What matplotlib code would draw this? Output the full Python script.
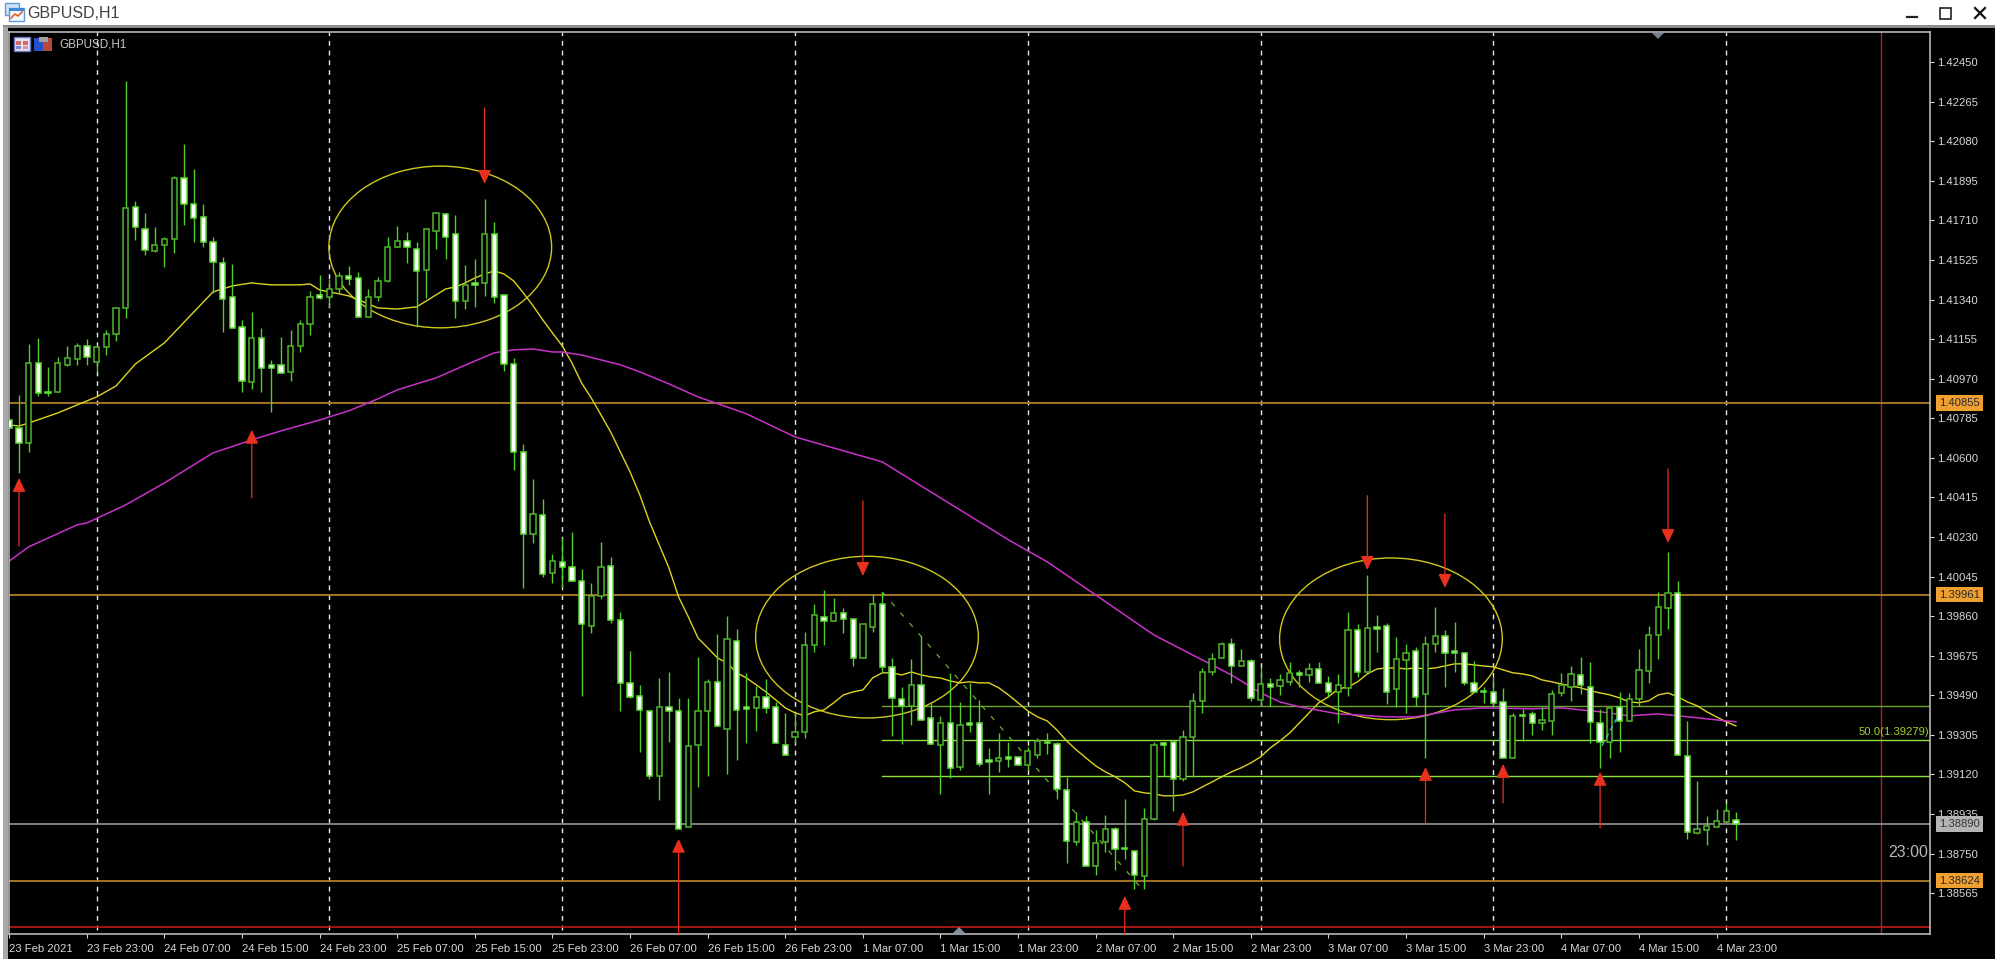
import matplotlib
matplotlib.use("Agg")
import matplotlib.pyplot as plt
from matplotlib.patches import Ellipse, Rectangle, Polygon
from matplotlib.transforms import blended_transform_factory

plt.rcParams['font.family'] = ['Liberation Sans', 'DejaVu Sans']

symbol = "GBPUSD,H1"
highs = [1.40787,1.40894,1.41133,1.41161,1.41025,1.41072,1.41124,1.41138,1.41156,1.41119,
1.41198,1.41301,1.42362,1.41801,1.41745,1.41680,1.41633,1.41918,1.42068,1.41951,
1.41787,1.41633,1.41540,1.41507,1.41245,1.41282,1.41208,1.41058,1.41165,1.41198,
1.41245,1.41381,1.41455,1.41437,1.41469,1.41497,1.41469,1.41390,1.41446,1.41633,
1.41684,1.41656,1.41610,1.41675,1.41750,1.41745,1.41736,1.41502,1.41530,1.41811,
1.41703,1.41362,1.41067,1.40665,1.40502,1.40408,1.40151,1.40226,1.40254,1.40081,
1.40016,1.40207,1.40137,1.39880,1.39698,1.39539,1.39417,1.39571,1.39599,1.39478,
1.39478,1.39670,1.39567,1.39777,1.39861,1.39800,1.39595,1.39534,1.39567,1.39459,
1.39408,1.39408,1.39786,1.39917,1.39983,1.39945,1.39898,1.39847,1.39824,1.39964,
1.39973,1.39665,1.39529,1.39660,1.39768,1.39455,1.39394,1.39595,1.39459,1.39548,
1.39469,1.39244,1.39314,1.39272,1.39202,1.39249,1.39291,1.39314,1.39272,1.39109,
1.38945,1.38926,1.38861,1.38931,1.38875,1.39006,1.38763,1.38964,1.39272,1.39272,
1.39272,1.39328,1.39501,1.39618,1.39688,1.39740,1.39758,1.39707,1.39660,1.39623,
1.39571,1.39590,1.39646,1.39609,1.39641,1.39646,1.39581,1.39590,1.39880,1.39824,
1.40053,1.39866,1.39829,1.39763,1.39730,1.39716,1.39768,1.39903,1.39796,1.39833,
1.39693,1.39651,1.39529,1.39576,1.39525,1.39408,1.39427,1.39417,1.39436,1.39515,
1.39595,1.39627,1.39670,1.39646,1.39427,1.39436,1.39506,1.39501,1.39707,1.39815,
1.39973,1.40160,1.40025,1.39370,1.39090,1.38926,1.38959,1.38987,1.38945]
lows = [1.40731,1.40530,1.40628,1.40890,1.40890,1.40908,1.41030,1.41035,1.41035,1.41002,
1.41081,1.41147,1.41254,1.41619,1.41549,1.41563,1.41493,1.41558,1.41689,1.41610,
1.41586,1.41371,1.41189,1.41208,1.40908,1.40922,1.40908,1.40815,1.40997,1.40960,
1.41095,1.41175,1.41343,1.41306,1.41371,1.41409,1.41259,1.41259,1.41334,1.41423,
1.41586,1.41512,1.41212,1.41348,1.41577,1.41530,1.41254,1.41296,1.41306,1.41357,
1.41325,1.41007,1.40544,1.39992,1.40202,1.40044,1.40016,1.39997,1.40025,1.39487,
1.39782,1.39941,1.39829,1.39417,1.39478,1.39225,1.39099,1.39001,1.39272,1.38866,
1.38875,1.39062,1.39113,1.39347,1.39123,1.39188,1.39267,1.39324,1.39408,1.39267,
1.39211,1.39267,1.39291,1.39693,1.39726,1.39838,1.39782,1.39627,1.39665,1.39786,
1.39595,1.39300,1.39263,1.39352,1.39375,1.39263,1.39029,1.39104,1.39141,1.39319,
1.39160,1.39029,1.39132,1.39155,1.39165,1.39141,1.39197,1.39216,1.39006,1.38706,
1.38791,1.38692,1.38650,1.38758,1.38674,1.38725,1.38585,1.38585,1.38907,1.39109,
1.38950,1.39090,1.39109,1.39408,1.39585,1.39665,1.39548,1.39627,1.39464,1.39441,
1.39441,1.39492,1.39539,1.39529,1.39553,1.39548,1.39483,1.39361,1.39487,1.39576,
1.39599,1.39693,1.39450,1.39436,1.39408,1.39441,1.39197,1.39693,1.39529,1.39599,
1.39539,1.39506,1.39455,1.39436,1.39197,1.39197,1.39277,1.39305,1.39328,1.39305,
1.39487,1.39464,1.39497,1.39267,1.39151,1.39197,1.39225,1.39370,1.39441,1.39548,
1.39660,1.39800,1.39211,1.38819,1.38842,1.38791,1.38875,1.38898,1.38814]
body_top = [1.40777,1.40740,1.41044,1.41044,1.40908,1.41044,1.41067,1.41124,1.41124,1.41119,
1.41180,1.41301,1.41769,1.41773,1.41670,1.41596,1.41624,1.41909,1.41909,1.41787,
1.41727,1.41610,1.41512,1.41353,1.41212,1.41161,1.41161,1.41035,1.41035,1.41124,
1.41226,1.41353,1.41362,1.41390,1.41451,1.41451,1.41441,1.41353,1.41427,1.41586,
1.41614,1.41614,1.41577,1.41670,1.41745,1.41741,1.41647,1.41409,1.41418,1.41647,
1.41647,1.41362,1.41039,1.40628,1.40338,1.40333,1.40118,1.40114,1.40090,1.40025,
1.39955,1.40090,1.40095,1.39843,1.39548,1.39487,1.39417,1.39436,1.39436,1.39417,
1.39254,1.39417,1.39553,1.39553,1.39754,1.39744,1.39436,1.39483,1.39483,1.39436,
1.39258,1.39319,1.39726,1.39866,1.39857,1.39875,1.39875,1.39847,1.39824,1.39917,
1.39917,1.39623,1.39473,1.39539,1.39539,1.39385,1.39361,1.39361,1.39352,1.39361,
1.39361,1.39188,1.39197,1.39202,1.39202,1.39230,1.39277,1.39272,1.39263,1.39048,
1.38898,1.38898,1.38800,1.38866,1.38866,1.38777,1.38763,1.38912,1.39258,1.39267,
1.39272,1.39296,1.39464,1.39599,1.39660,1.39730,1.39730,1.39651,1.39651,1.39543,
1.39543,1.39562,1.39595,1.39595,1.39613,1.39613,1.39548,1.39539,1.39796,1.39796,
1.39805,1.39810,1.39815,1.39660,1.39688,1.39698,1.39730,1.39768,1.39768,1.39698,
1.39688,1.39548,1.39511,1.39506,1.39459,1.39394,1.39398,1.39403,1.39375,1.39497,
1.39539,1.39590,1.39585,1.39529,1.39361,1.39431,1.39436,1.39473,1.39609,1.39772,
1.39903,1.39969,1.39969,1.39207,1.38866,1.38880,1.38903,1.38950,1.38907]
body_bot = [1.40740,1.40670,1.40670,1.40904,1.40901,1.40908,1.41035,1.41063,1.41072,1.41049,
1.41119,1.41180,1.41301,1.41680,1.41572,1.41568,1.41596,1.41624,1.41787,1.41722,
1.41610,1.41516,1.41343,1.41208,1.40960,1.40955,1.41021,1.41021,1.40997,1.41002,
1.41124,1.41226,1.41348,1.41353,1.41390,1.41437,1.41259,1.41259,1.41353,1.41427,
1.41586,1.41586,1.41474,1.41479,1.41661,1.41633,1.41334,1.41334,1.41409,1.41418,
1.41353,1.41039,1.40628,1.40245,1.40245,1.40058,1.40062,1.40090,1.40025,1.39824,
1.39815,1.39955,1.39843,1.39548,1.39483,1.39422,1.39113,1.39113,1.39417,1.38866,
1.38875,1.39258,1.39417,1.39347,1.39333,1.39422,1.39427,1.39431,1.39431,1.39267,
1.39211,1.39296,1.39319,1.39726,1.39838,1.39838,1.39847,1.39665,1.39665,1.39810,
1.39623,1.39478,1.39441,1.39441,1.39375,1.39263,1.39258,1.39151,1.39155,1.39352,
1.39169,1.39179,1.39183,1.39193,1.39165,1.39165,1.39211,1.39267,1.39052,1.38809,
1.38805,1.38692,1.38692,1.38805,1.38772,1.38772,1.38650,1.38646,1.38912,1.39258,
1.39099,1.39099,1.39296,1.39464,1.39599,1.39665,1.39627,1.39627,1.39478,1.39469,
1.39529,1.39534,1.39553,1.39585,1.39585,1.39548,1.39506,1.39506,1.39525,1.39599,
1.39599,1.39800,1.39506,1.39520,1.39655,1.39483,1.39497,1.39730,1.39688,1.39688,
1.39548,1.39506,1.39506,1.39455,1.39197,1.39197,1.39394,1.39361,1.39361,1.39370,
1.39501,1.39529,1.39539,1.39366,1.39272,1.39272,1.39370,1.39370,1.39473,1.39604,
1.39772,1.39898,1.39211,1.38851,1.38847,1.38861,1.38875,1.38898,1.38890]
# bars that closed above their open (hollow bodies); all others are bearish (white bodies)
bull_bars = [2,5,6,7,9,10,11,12,15,16,17,25,29,30,31,33,34,37,38,39,40,43,44,47,49,54,56,60,61,
67,70,71,72,74,77,81,82,83,85,88,89,93,96,98,102,105,106,110,112,113,117,118,121,122,123,124,
125,127,129,131,132,134,137,138,140,143,144,146,147,155,158,159,160,161,165,167,168,169,170,
171,174,175,176,177]

ma_fast_bars = [0,1,2,5,9,11,13,16,21,22,23,25,26,27,30,31,32,34,35,36,37,38,40,42,44,45,46,47,48,49,50,
51,52,53,54,55,56,57,58,59,60,61,62,63,64,65,66,67,68,69,70,71,72,73,74,75,76,77,78,79,80,81,82,83,84,
85,86,87,88,89,90,91,92,93,94,95,96,97,98,99,100,101,102,103,104,105,106,107,108,109,110,111,112,113,
114,115,116,117,118,119,120,121,122,123,124,125,126,127,128,129,130,131,132,133,134,135,136,137,138,
139,140,141,142,143,144,145,146,147,148,149,150,151,152,153,154,155,156,157,158,159,160,161,162,163,
164,165,166,167,168,169,170,171,172,173,174,175,176,177,178]
ma_fast = [1.40754,1.40749,1.40763,1.40810,1.40885,1.40936,1.41039,1.41138,1.41376,1.41390,1.41404,
1.41418,1.41413,1.41409,1.41409,1.41413,1.41385,1.41367,1.41357,1.41339,1.41320,1.41301,1.41296,
1.41306,1.41362,1.41390,1.41399,1.41418,1.41441,1.41460,1.41474,1.41460,1.41427,1.41371,1.41311,
1.41245,1.41184,1.41124,1.41044,1.40950,1.40880,1.40801,1.40721,1.40628,1.40534,1.40427,1.40301,
1.40193,1.40086,1.39950,1.39857,1.39758,1.39712,1.39665,1.39641,1.39595,1.39571,1.39539,1.39506,
1.39469,1.39431,1.39408,1.39394,1.39413,1.39422,1.39455,1.39492,1.39506,1.39515,1.39571,1.39595,
1.39595,1.39585,1.39599,1.39585,1.39576,1.39571,1.39557,1.39548,1.39553,1.39548,1.39548,1.39525,
1.39492,1.39455,1.39417,1.39389,1.39370,1.39328,1.39277,1.39235,1.39197,1.39160,1.39132,1.39109,
1.39081,1.39043,1.39034,1.39029,1.39020,1.39020,1.39024,1.39038,1.39062,1.39085,1.39109,1.39132,
1.39151,1.39174,1.39202,1.39244,1.39277,1.39314,1.39361,1.39408,1.39455,1.39483,1.39520,1.39529,
1.39553,1.39590,1.39613,1.39618,1.39618,1.39613,1.39618,1.39613,1.39618,1.39627,1.39637,1.39637,
1.39632,1.39627,1.39623,1.39609,1.39595,1.39590,1.39581,1.39562,1.39553,1.39543,1.39534,1.39525,
1.39511,1.39501,1.39492,1.39478,1.39459,1.39455,1.39464,1.39492,1.39501,1.39483,1.39459,1.39441,
1.39413,1.39389,1.39366,1.39347]
ma_slow_bars = [0,2,7,8,12,16,18,21,25,28,32,35,38,40,44,48,50,52,54,56,57,59,63,65,68,71,74,76,81,90,93,
103,107,112,118,123,126,129,131,133,137,139,142,145,149,152,157,160,164,167,170,172,174,176,178]
ma_slow = [1.40118,1.40184,1.40287,1.40296,1.40380,1.40483,1.40539,1.40623,1.40684,1.40726,1.40777,
1.40820,1.40876,1.40918,1.40974,1.41053,1.41091,1.41105,1.41109,1.41095,1.41095,1.41081,1.41035,
1.41002,1.40946,1.40885,1.40838,1.40806,1.40698,1.40581,1.40497,1.40217,1.40114,1.39959,1.39772,
1.39655,1.39585,1.39501,1.39459,1.39436,1.39403,1.39398,1.39389,1.39389,1.39422,1.39431,1.39427,
1.39431,1.39413,1.39394,1.39403,1.39394,1.39385,1.39375,1.39366]

arrow_bars = [1,25,49,69,88,115,121,140,148,146,154,164,171]
arrow_tips = [1.40506,1.40731,1.41881,1.38819,1.40048,1.38552,1.38945,1.40076,1.39992,1.39155,1.39169,1.39132,1.40202]
arrow_tails = [1.40188,1.40413,1.42236,1.38374,1.40399,1.38374,1.38692,1.40423,1.40338,1.38889,1.38987,1.38870,1.40548]

ellipse_bars = [44.43,88.42,142.44]
ellipse_prices = [1.41586,1.39762,1.39754]
ellipse_width_bars = 22.96
ellipse_height_price = 0.00756

grid_bars = [9,33,57,81,105,129,153,177]
x_tick_bars = list(range(0,177,8))
x_tick_labels = ["23 Feb 2021","23 Feb 23:00","24 Feb 07:00","24 Feb 15:00","24 Feb 23:00","25 Feb 07:00",
"25 Feb 15:00","25 Feb 23:00","26 Feb 07:00","26 Feb 15:00","26 Feb 23:00","1 Mar 07:00","1 Mar 15:00",
"1 Mar 23:00","2 Mar 07:00","2 Mar 15:00","2 Mar 23:00","3 Mar 07:00","3 Mar 15:00","3 Mar 23:00",
"4 Mar 07:00","4 Mar 15:00","4 Mar 23:00"]
y_ticks = [1.42450,1.42265,1.42080,1.41895,1.41710,1.41525,1.41340,1.41155,1.40970,1.40785,1.40600,
1.40415,1.40230,1.40045,1.39860,1.39675,1.39490,1.39305,1.39120,1.38935,1.38750,1.38565]

orange_levels = [1.40855,1.39961,1.38624]
bid_level = 1.38890
red_level = 1.38409
fib_start_bar = 90
fib_levels = [1.39440,1.39279,1.39113]
trend_bars = [90,116.6]
trend_prices = [1.39973,1.38594]
cyan_bars = [164.2,165.9]
cyan_prices = [1.39254,1.39398]
red_vline_bar = 193
countdown = "23:00"

W, H = 2000, 959
fig = plt.figure(figsize=(W/100, H/100), dpi=100, facecolor='white')

# window chrome, drawn in image pixels
bg = fig.add_axes([0, 0, 1, 1], zorder=0)
bg.set_xlim(0, W); bg.set_ylim(H, 0); bg.axis('off')
bg.add_patch(Rectangle((0, 27), 1995, 932, fc='black', ec='none'))
bg.add_patch(Rectangle((0, 25), 1995, 3, fc='#8c8c8c', ec='none'))
bg.add_patch(Rectangle((0, 27), 8, 932, fc='#a8a8a8', ec='none'))
bg.add_patch(Rectangle((0, 0), 3, 959, fc='white', ec='none'))
bg.add_patch(Rectangle((5, 3), 14, 12, fc='#cfe2f8', ec='#5f9ad8', lw=1))
bg.add_patch(Rectangle((9, 8), 15, 13, fc='#f4f8fc', ec='#5f9ad8', lw=1))
bg.add_patch(Rectangle((9, 8), 15, 3, fc='#3f86d6', ec='none'))
bg.plot([11, 15, 18, 22], [18, 14, 16, 12], color='#e0602a', lw=1.2)
bg.text(27, 13, symbol, color='#404040', fontsize=11.5, va='center', ha='left')
bg.plot([1907, 1917], [17, 17], color='#222222', lw=1.6)
bg.add_patch(Rectangle((1940, 8), 11, 10.5, fc='none', ec='#222222', lw=1.2))
bg.plot([1975, 1985], [8, 18], color='#111111', lw=1.6)
bg.plot([1975, 1985], [18, 8], color='#111111', lw=1.6)

ax = fig.add_axes([9/W, 1-934/H, (1930-9)/W, (934-32)/H], zorder=1, facecolor='black')
ax.set_xlim(-0.03, 198.01)
ax.set_ylim(1.38374, 1.42591)
for s in ax.spines.values():
    s.set_color('#c4c4c4'); s.set_linewidth(1.1)

ax.yaxis.tick_right()
ax.set_yticks(y_ticks)
ax.set_yticklabels([f"{v:.5f}" for v in y_ticks])
ax.set_xticks(x_tick_bars)
ax.set_xticklabels(x_tick_labels, ha='left')
ax.tick_params(axis='both', colors='#d8d8d8', labelsize=8.1, length=3, width=0.8)
ax.tick_params(axis='x', pad=4)
ax.tick_params(axis='y', pad=2)

ax.vlines(grid_bars, 1.38393, 1.42591, color='#e8e8e8', lw=1, linestyles=(0, (3.5, 3.5)), zorder=1)
ax.axvline(red_vline_bar, color='#a8281a', lw=1, zorder=1)

for lv in orange_levels:
    ax.axhline(lv, color='#b07c28', lw=1.3, zorder=2)
ax.axhline(bid_level, color='#8c8c8c', lw=1.3, zorder=2)
ax.axhline(red_level, color='#c01c14', lw=1.2, zorder=2)
for lv, col in zip(fib_levels, ['#6fa52e', '#8fe03a', '#8fe03a']):
    ax.plot([fib_start_bar, 198.01], [lv, lv], color=col, lw=1.0, zorder=2)
ax.plot(trend_bars, trend_prices, color='#6fb030', lw=0.9, ls=(0, (4, 7)), zorder=2)
ax.plot(cyan_bars, cyan_prices, color='#40c8d0', lw=0.9, ls=(0, (4, 3)), zorder=4)

for cx, cy in zip(ellipse_bars, ellipse_prices):
    ax.add_patch(Ellipse((cx, cy), ellipse_width_bars, ellipse_height_price, fc='none', ec='#cfc81e', lw=1.0, zorder=2))
ax.plot(ma_fast_bars, ma_fast, color='#dcd420', lw=1.0, zorder=2)
ax.plot(ma_slow_bars, ma_slow, color='#c832c8', lw=1.1, zorder=2)

n = len(highs)
bars = range(n)
ax.vlines(bars, lows, highs, color='#55cc2e', lw=1.0, zorder=3)
heights = [t - b for t, b in zip(body_top, body_bot)]
faces = ['black' if i in bull_bars else 'white' for i in bars]
edges = ['#4fb52c' if i in bull_bars else '#5fe034' for i in bars]
ax.bar(list(bars), heights, bottom=body_bot, width=0.54, color=faces, edgecolor=edges, linewidth=1.1, zorder=3.5)

for b, tip, tail in zip(arrow_bars, arrow_tips, arrow_tails):
    ax.annotate('', xy=(b, tip), xytext=(b, tail), zorder=5, annotation_clip=False,
                arrowprops=dict(arrowstyle='-|>,head_length=0.85,head_width=0.4', mutation_scale=10,
                                color='#e8301e', lw=0.9, shrinkA=0, shrinkB=0))

tr = blended_transform_factory(ax.transAxes, ax.transData)
bx = (1939-9)/1921
for lv in orange_levels:
    ax.text(bx, lv, f"{lv:.5f}", transform=tr, color='#2a2a2a', fontsize=8.1, va='center', ha='left', clip_on=False,
            zorder=10, bbox=dict(boxstyle='square,pad=0.26', fc='#f0a030', ec='none'))
ax.text(bx, bid_level, f"{bid_level:.5f}", transform=tr, color='#333333', fontsize=8.1, va='center', ha='left',
        clip_on=False, zorder=10, bbox=dict(boxstyle='square,pad=0.26', fc='#b4b4b4', ec='none'))
ax.text(1.0-1/1921, 1.39279+0.00017, "50.0(1.39279)", transform=tr, color='#9fd028', fontsize=8.1, va='bottom', ha='right', zorder=6)
ax.text(1.0-2/1921, 1.38755, countdown, transform=tr, color='#b8b8b8', fontsize=11.5, va='center', ha='right', zorder=6)

# chart-corner icons, label and shift markers, in image pixels
fg = fig.add_axes([0, 0, 1, 1], zorder=2)
fg.set_xlim(0, W); fg.set_ylim(H, 0); fg.axis('off'); fg.patch.set_alpha(0)
fg.add_patch(Rectangle((14, 37), 16, 14, fc='#e8e0ec', ec='#6878c0', lw=1))
fg.add_patch(Rectangle((16, 41), 5, 4, fc='#d86868', ec='none'))
fg.add_patch(Rectangle((23, 41), 5, 4, fc='#d86868', ec='none'))
fg.add_patch(Rectangle((16, 46), 5, 3, fc='#7888d0', ec='none'))
fg.add_patch(Rectangle((23, 46), 5, 3, fc='#d89898', ec='none'))
fg.add_patch(Rectangle((34, 38), 9, 13, fc='#2850c8', ec='none'))
fg.add_patch(Rectangle((43, 38), 9, 13, fc='#b84838', ec='none'))
fg.add_patch(Rectangle((39, 37), 9, 5, fc='#a0a0a0', ec='none'))
fg.text(59, 44.5, symbol, color='#c8c8c8', fontsize=8.4, va='center', ha='left')
fg.add_patch(Polygon([(1652, 33), (1664, 33), (1658, 39)], fc='#708090', ec='none'))
fg.add_patch(Polygon([(953, 933), (965, 933), (959, 927)], fc='#8090a0', ec='none'))

fig.savefig('out.png', dpi=100, facecolor='white')
